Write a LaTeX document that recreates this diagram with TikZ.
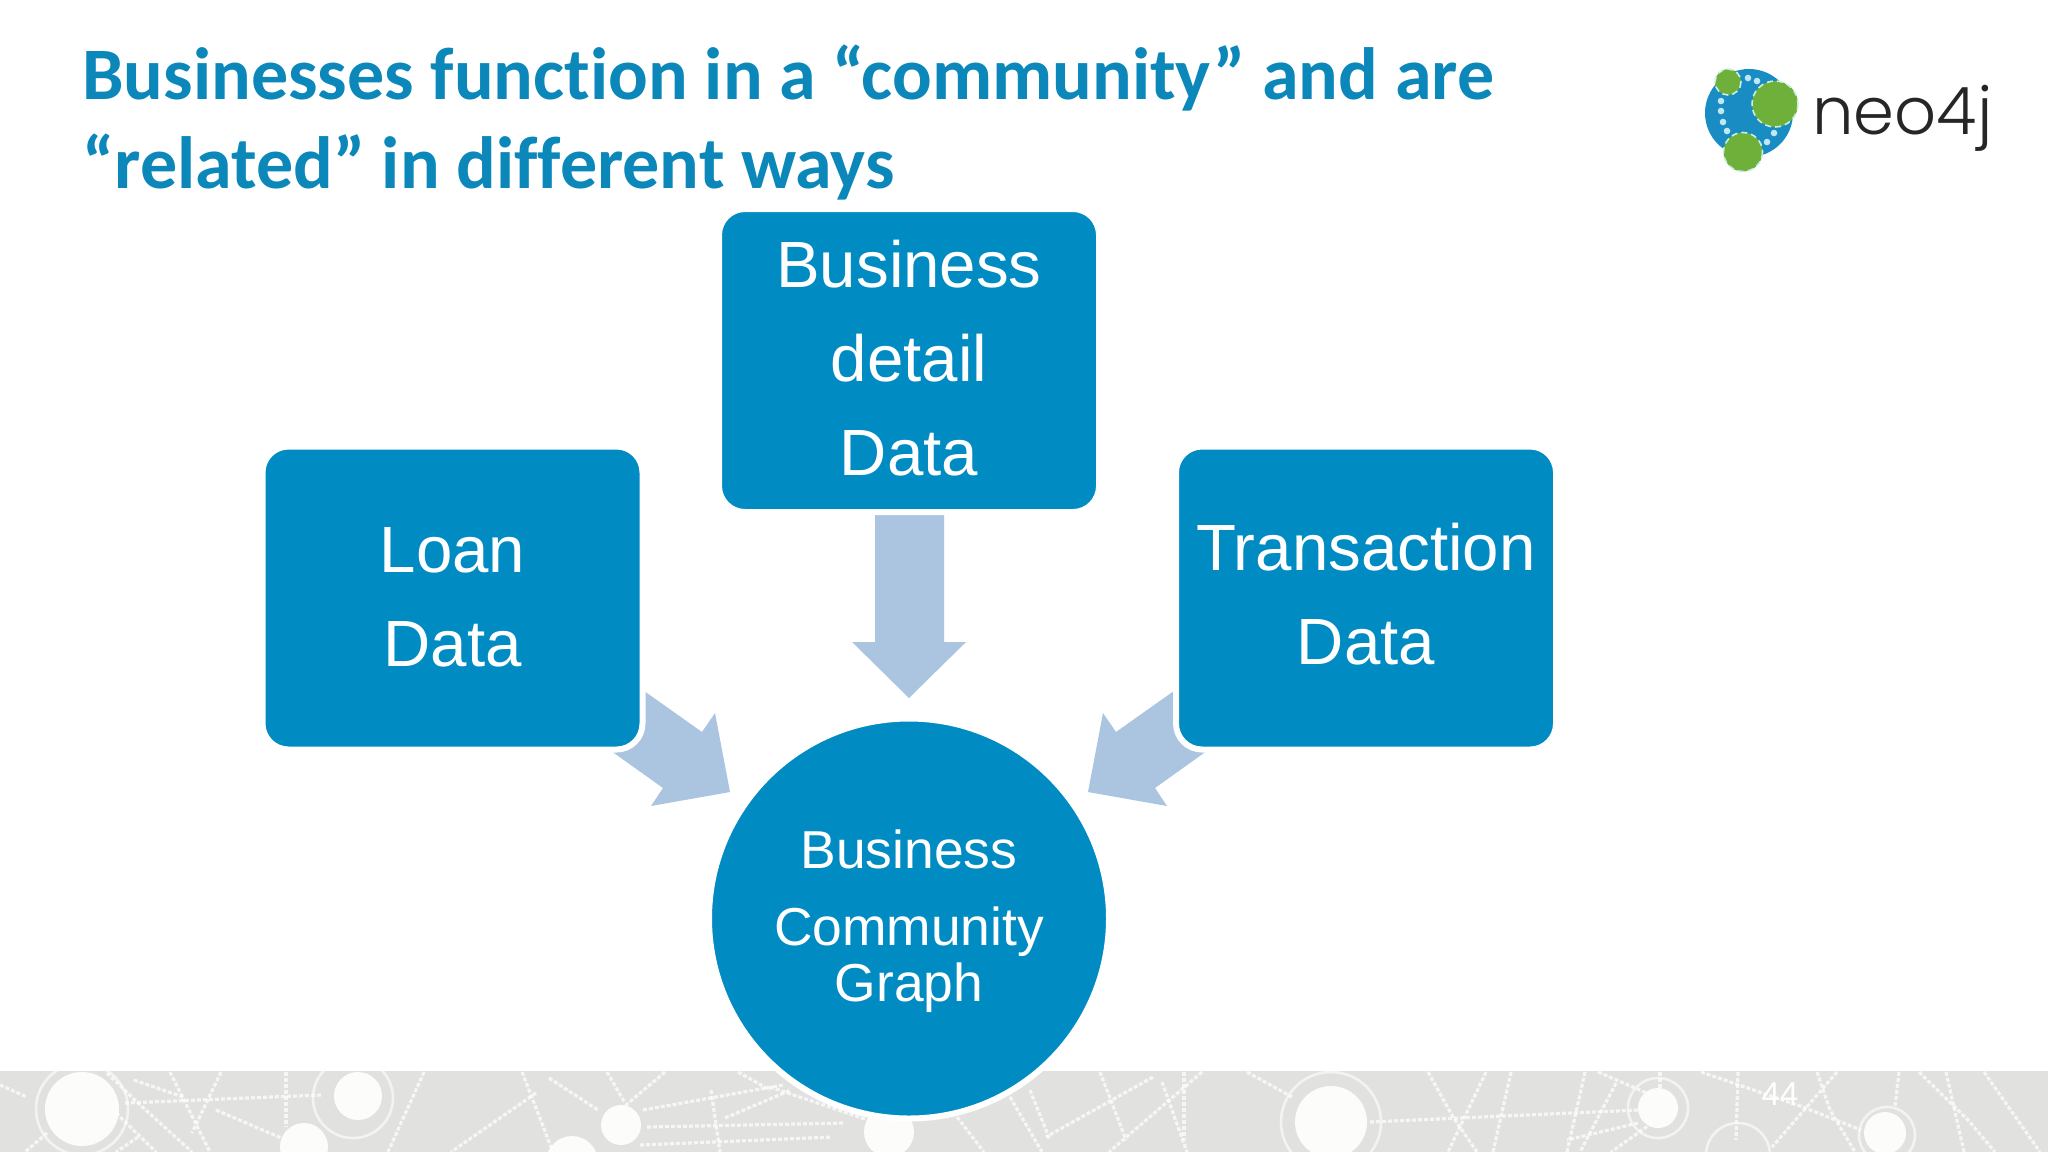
\documentclass[tikz,border=0pt]{standalone}
\usepackage{fontspec}
\setmainfont{Liberation Sans}
\newfontfamily\titlefont[Ligatures=CommonOff]{Carlito}
\newfontfamily\logofont{Poppins Light}
\definecolor{brandblue}{HTML}{008BC3}
\definecolor{titleblue}{HTML}{0B87BA}
\definecolor{arrowblue}{HTML}{ABC4DF}
\definecolor{bandgrey}{HTML}{E1E1E0}
\definecolor{logoblue}{HTML}{1A8CC4}
\definecolor{logogreen}{HTML}{6FB03A}
\definecolor{logoedge}{HTML}{C8F0E0}
\definecolor{logodot}{HTML}{BFE8F5}
\newcommand{\boxlift}[1]{\rule[-#1pt]{0pt}{#1pt}}
\newcommand{\hubdrop}{\rule{0pt}{22.3pt}}
\tikzset{
  databox/.style={fill=brandblue,draw=white,line width=3pt,rounded corners=13pt,minimum width=190pt,minimum height=151.5pt,inner sep=0pt,align=center,text=white,font=\fontsize{32.7}{47}\selectfont},
  hubnode/.style={circle,fill=brandblue,draw=white,line width=3pt,minimum size=200pt,inner sep=0pt,align=center,text=white,font=\fontsize{26.7}{28}\selectfont},
  flowarrow/.style={fill=arrowblue,draw=none},
  netline/.style={draw=white,line width=1.6pt,dash pattern=on 2pt off 1pt,opacity=.72},
  netdisc/.style={fill=white,draw=none,opacity=.9},
  netring/.style={draw=white,line width=1.3pt,opacity=.6},
  logodisc/.style={fill=logogreen,draw=logoedge,line width=.8pt,densely dashed},
  logodotst/.style={fill=logodot,draw=none},
}
\begin{document}
\begin{tikzpicture}[x=.5pt,y=-.5pt]
\useasboundingbox (0,0) rectangle (2048,1152);
\fill[white] (0,0) rectangle (2048,1152);
% band
\fill[bandgrey] (0,1071) rectangle (2048,1152);
\begin{scope}
\clip (0,1071) rectangle (2048,1152);
\foreach \p in {
 {(0,1085)--(27,1097)},{(134,1080)--(183,1097)},{(107,1073)--(138,1103)--(192,1152)},{(125,1103)--(321,1095)},
 {(170,1072)--(210,1152)},{(221,1072)--(192,1133)},{(286,1072)--(286,1127)},{(216,1110)--(286,1140)},
 {(116,1113)--(156,1152)},{(47,1133)--(25,1152)},{(138,1137)--(116,1152)},{(424,1072)--(388,1152)},
 {(522,1072)--(553,1152)},{(536,1093)--(451,1152)},{(549,1078)--(598,1110)},{(607,1072)--(625,1103)},
 {(665,1072)--(620,1110)},{(643,1110)--(783,1085)},{(647,1127)--(845,1123)},{(640,1145)--(832,1137)},
 {(711,1090)--(720,1152)},{(725,1118)--(791,1090)},{(738,1072)--(770,1090)},{(770,1087)--(868,1120)},
 {(957,1117)--(984,1152)},{(1010,1097)--(1042,1152)},{(1030,1090)--(1050,1140)},{(1153,1077)--(1046,1137)},
 {(1100,1072)--(1126,1140)},{(1202,1072)--(1109,1152)},{(1162,1082)--(1187,1152)},{(1184,1072)--(1184,1140)},
 {(1247,1072)--(1292,1097)},{(1370,1122)--(1638,1110)},{(1428,1072)--(1453,1117)--(1477,1152)},
 {(1486,1072)--(1448,1152)},{(1511,1072)--(1493,1152)},{(1585,1072)--(1567,1152)},{(1616,1083)--(1580,1152)},
 {(1598,1072)--(1656,1097)},{(1638,1123)--(1567,1140)},{(1652,1123)--(1611,1152)},{(1660,1072)--(1660,1097)},
 {(1701,1072)--(1803,1107)--(1861,1130)},{(1738,1072)--(1736,1140)},{(1837,1072)--(1772,1147)},
 {(1817,1072)--(1830,1110)--(1855,1152)},{(1919,1072)--(1968,1120)--(1995,1152)},{(1946,1072)--(1964,1152)},
 {(1984,1072)--(2040,1152)},{(1899,1072)--(1895,1107)}}
 {\path[netline] \p;}
\path[netdisc] (82,1109) circle (37);
\path[netdisc] (358,1096) circle (24);
\path[netdisc] (304,1147) circle (24);
\path[netdisc] (621,1125) circle (20);
\path[netdisc] (572,1162) circle (26);
\path[netdisc] (889,1132) circle (25);
\path[netdisc] (1331,1122) circle (36);
\path[netdisc] (1658,1108) circle (20);
\path[netdisc] (1885,1133) circle (21);
\path[netring] (82,1109) circle (46);
\path[netring] (353,1098) circle (40);
\path[netring] (1331,1122) circle (50);
\path[netring] (1658,1108) circle (30);
\path[netring] (1738,1155) circle (32);
\path[netring] (1887,1135) circle (28);
\end{scope}
% page number
\node (pagenum) at (1780,1094) [text=white,inner sep=0pt,font=\fontsize{16.5}{18}\selectfont] {44};
% title
\node (title) [anchor=base west,inner sep=0pt,align=left,text=titleblue,font=\titlefont\bfseries\fontsize{37}{44.5}\selectfont] at (82,188) {Businesses function in a “community” and are\\“related” in different ways};
% arrows
\fill[flowarrow] (875,515)--(944,515)--(944,642)--(966,642)--(909,698)--(852,642)--(875,642)--cycle;
\fill[flowarrow] (630,681)--(702,732)--(715,713)--(730,792)--(651,806)--(663,788)--(600,743)--cycle;
\fill[flowarrow] (1188,681)--(1116,732)--(1103,713)--(1088,792)--(1167,806)--(1155,788)--(1218,743)--cycle;
% boxes
\node (detail) [databox] at (909,360.5) {Business\\detail\\Data\boxlift{2.6}};
\node (loan) [databox] at (452.5,598) {Loan\\Data\boxlift{1.3}};
\node (trans) [databox] at (1366,598) {Transaction\\Data\boxlift{3.9}};
\node (hub) [hubnode] at (909,918.5) {\hubdrop Business\\[10.5pt]Community\\Graph};
% logo
\fill[logoblue] (1749,113) circle (44);
\path[logodisc] (1728,82) circle (13);
\path[logodisc] (1775,104) circle (23);
\path[logodisc] (1743,152) circle (19.5);
\foreach \x/\y in {1748/78,1757/81,1721/101,1721/111,1723/122,1727/131,1767/142,1774/133}
  \path[logodotst] (\x,\y) circle (3.3);
\node (neo) [anchor=base west,inner sep=0pt,text=black!85,font=\logofont\fontsize{32.8}{36}\selectfont] at (1812,134) {neo4j};
\end{tikzpicture}
\end{document}
